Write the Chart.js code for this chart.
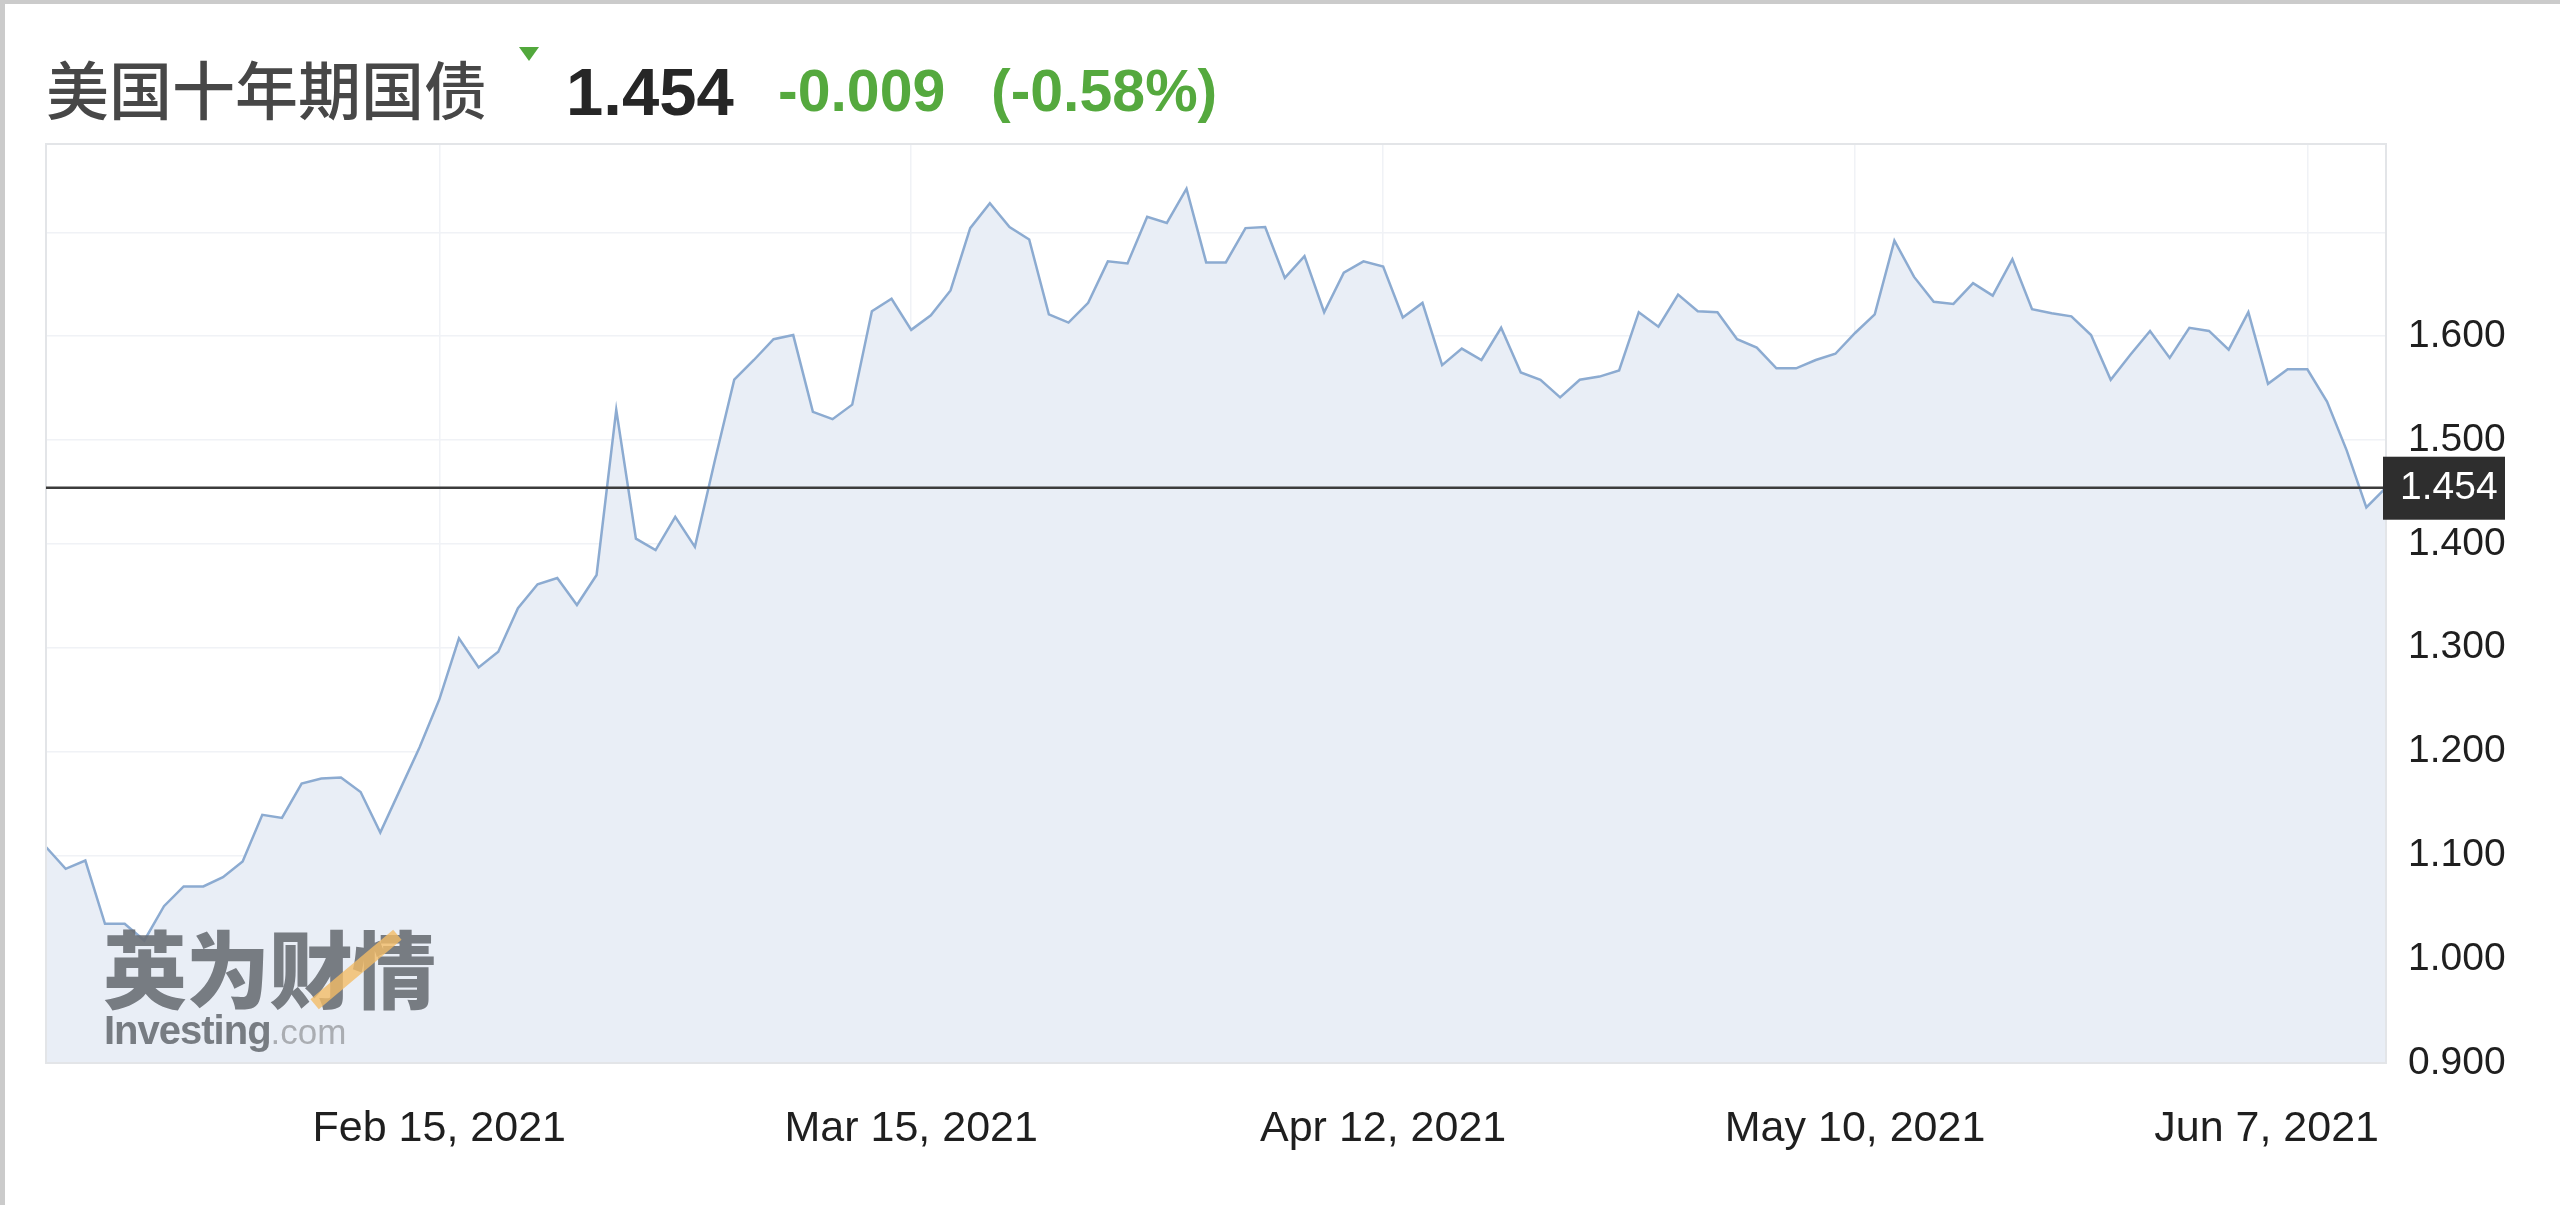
<!DOCTYPE html>
<html>
<head>
<meta charset="utf-8">
<script src="https://cdn.jsdelivr.net/npm/chart.js@4.4.1/dist/chart.umd.min.js"></script>
<style>
html,body{margin:0;padding:0;background:#fff;width:2560px;height:1205px;overflow:hidden;}
#c{position:absolute;left:0;top:0;}
.bt{position:absolute;left:0;top:0;width:2560px;height:4px;background:#cbcbcb;}
.bl{position:absolute;left:0;top:0;width:5px;height:1205px;background:#cbcbcb;}
.h{position:absolute;white-space:nowrap;}
#title{left:46px;top:55px;font:500 63px/63px "Noto Sans CJK SC",sans-serif;color:#474747;}
#tri{left:519px;top:47px;width:0;height:0;border-left:10px solid transparent;border-right:10px solid transparent;border-top:14px solid #52a83c;}
#last{left:566px;top:58px;font:700 67px/67px "Liberation Sans",Arial,sans-serif;color:#262626;}
#chg{left:778px;top:62px;font:700 59px/59px "Liberation Sans",Arial,sans-serif;color:#55a93e;}
#pct{left:991px;top:62px;font:700 59px/59px "Liberation Sans",Arial,sans-serif;color:#55a93e;}
#wm1{left:103px;top:924px;font:900 84px/84px "Noto Sans CJK SC",sans-serif;color:#6b6f76;letter-spacing:-1px;opacity:0.9;}
#wm2{left:104px;top:1010px;font:700 40px/40px "Liberation Sans",Arial,sans-serif;color:#6b6f76;letter-spacing:-1px;opacity:0.9;}
#wm2 span{font-weight:400;font-size:35px;color:#a3a6ab;letter-spacing:0;}
#slash{left:302px;top:963px;width:108px;height:13px;background:#f2bb66;opacity:0.8;transform:rotate(-40deg);}
</style>
</head>
<body>
<canvas id="c" width="2560" height="1205"></canvas>
<div class="bt"></div><div class="bl"></div>
<div class="h" id="title">美国十年期国债</div>
<div class="h" id="tri"></div>
<div class="h" id="last">1.454</div>
<div class="h" id="chg">-0.009</div>
<div class="h" id="pct">(-0.58%)</div>
<div class="h" id="wm1">英为财情</div>
<div class="h" id="slash"></div>
<div class="h" id="wm2">Investing<span>.com</span></div>
<script>
// Category axis: trading sessions (Sun–Fri), Jan 22 – Jun 11, 2021
const days = [
 "Jan 22",
 "Jan 24","Jan 25","Jan 26","Jan 27","Jan 28","Jan 29",
 "Jan 31","Feb 1","Feb 2","Feb 3","Feb 4","Feb 5",
 "Feb 7","Feb 8","Feb 9","Feb 10","Feb 11","Feb 12",
 "Feb 14","Feb 15","Feb 16","Feb 17","Feb 18","Feb 19",
 "Feb 21","Feb 22","Feb 23","Feb 24","Feb 25","Feb 26",
 "Feb 28","Mar 1","Mar 2","Mar 3","Mar 4","Mar 5",
 "Mar 7","Mar 8","Mar 9","Mar 10","Mar 11","Mar 12",
 "Mar 14","Mar 15","Mar 16","Mar 17","Mar 18","Mar 19",
 "Mar 21","Mar 22","Mar 23","Mar 24","Mar 25","Mar 26",
 "Mar 28","Mar 29","Mar 30","Mar 31","Apr 1","Apr 2",
 "Apr 4","Apr 5","Apr 6","Apr 7","Apr 8","Apr 9",
 "Apr 11","Apr 12","Apr 13","Apr 14","Apr 15","Apr 16",
 "Apr 18","Apr 19","Apr 20","Apr 21","Apr 22","Apr 23",
 "Apr 25","Apr 26","Apr 27","Apr 28","Apr 29","Apr 30",
 "May 2","May 3","May 4","May 5","May 6","May 7",
 "May 9","May 10","May 11","May 12","May 13","May 14",
 "May 16","May 17","May 18","May 19","May 20","May 21",
 "May 23","May 24","May 25","May 26","May 27","May 28",
 "May 30","Jun 1","Jun 2","Jun 3","Jun 4",
 "Jun 6","Jun 7","Jun 8","Jun 9","Jun 10","Jun 11"
];
const dates = days.map(d => d + ", 2021");

// 10-year US Treasury yield (%)
const yields = [
 1.108,
 1.087,1.095,1.034,1.034,1.018,1.051,
 1.070,1.070,1.079,1.094,1.139,1.136,
 1.169,1.174,1.175,1.161,1.122,1.163,
 1.204,1.250,1.309,1.281,1.296,1.338,
 1.361,1.367,1.341,1.370,1.529,1.405,
 1.394,1.426,1.397,1.479,1.558,1.577,
 1.597,1.601,1.527,1.520,1.534,1.624,
 1.636,1.606,1.620,1.644,1.704,1.728,
 1.705,1.693,1.621,1.613,1.632,1.672,
 1.670,1.715,1.709,1.742,1.671,1.671,
 1.704,1.705,1.656,1.677,1.623,1.661,
 1.672,1.667,1.618,1.632,1.572,1.588,
 1.577,1.608,1.565,1.558,1.541,1.558,
 1.561,1.567,1.623,1.609,1.640,1.624,
 1.623,1.597,1.589,1.569,1.569,1.577,
 1.583,1.603,1.621,1.692,1.657,1.633,
 1.631,1.651,1.639,1.674,1.626,1.622,
 1.619,1.601,1.558,1.582,1.605,
 1.579,1.608,1.605,1.587,1.623,1.554,
 1.568,1.568,1.537,1.490,1.435,1.454
];

const xTickLabels = ["Feb 15, 2021","Mar 15, 2021","Apr 12, 2021","May 10, 2021","Jun 7, 2021"];
const yTickValues = [0.9,1.0,1.1,1.2,1.3,1.4,1.5,1.6,1.7];
const yLabelMax = 1.6;
const currentValue = yields[yields.length - 1];

// keep x tick labels inside the plot's right edge (like the original widget)
const clampLabels = {
  id: 'clampLabels',
  beforeDraw(chart) {
    const s = chart.scales.x;
    const a = chart.chartArea;
    const items = s.getLabelItems(a);
    const ctx = chart.ctx;
    items.forEach(it => {
      ctx.save();
      ctx.font = it.font.string;
      const w = ctx.measureText(String(it.label)).width;
      ctx.restore();
      const x = it.options.translation[0];
      const limit = a.right - 7;
      if (x + w / 2 > limit) {
        it.options.textAlign = 'right';
        it.options.translation[0] = limit;
      }
    });
  }
};

const overlay = {
  id: 'overlay',
  afterDraw(chart) {
    const {ctx, chartArea: a, scales} = chart;
    ctx.save();
    ctx.strokeStyle = '#e3e5e8';
    ctx.lineWidth = 2;
    ctx.strokeRect(a.left, a.top, a.right - a.left, a.bottom - a.top);
    const y = scales.y.getPixelForValue(currentValue);
    ctx.strokeStyle = '#3c3c3c';
    ctx.lineWidth = 2.5;
    ctx.beginPath();
    ctx.moveTo(a.left, y);
    ctx.lineTo(a.right, y);
    ctx.stroke();
    ctx.fillStyle = '#2e2e2e';
    ctx.fillRect(a.right - 3, y - 31, 122, 63);
    ctx.fillStyle = '#ffffff';
    ctx.font = '39px "Liberation Sans", Arial, sans-serif';
    ctx.textBaseline = 'middle';
    ctx.textAlign = 'left';
    ctx.fillText(currentValue.toFixed(3), a.right + 14, y + 1);
    ctx.restore();
  }
};

Chart.defaults.font.family = '"Liberation Sans", Arial, sans-serif';

new Chart(document.getElementById('c'), {
  type: 'line',
  data: {
    labels: dates,
    datasets: [{
      data: yields,
      borderColor: '#8cabd1',
      borderWidth: 2.5,
      backgroundColor: '#e9eef6',
      fill: 'start',
      pointRadius: 0,
      tension: 0
    }]
  },
  options: {
    responsive: false,
    animation: false,
    layout: { padding: { left: 46, top: 144, right: 0, bottom: 0 } },
    plugins: { legend: { display: false }, tooltip: { enabled: false } },
    scales: {
      x: {
        type: 'category',
        offset: false,
        z: 1,
        afterBuildTicks: s => { s.ticks = xTickLabels.map(l => ({ value: dates.indexOf(l) })); },
        afterFit: s => { s.height = 142; },
        ticks: { autoSkip: false, maxRotation: 0, minRotation: 0, padding: 40, color: '#1f1f1f', font: { size: 43 } },
        grid: { color: '#f0f2f6', lineWidth: 1.5, drawTicks: false },
        border: { display: false }
      },
      y: {
        position: 'right',
        min: 0.9,
        max: 1.785,
        z: 1,
        afterBuildTicks: s => { s.ticks = yTickValues.map(v => ({ value: v })); },
        afterFit: s => { s.width = 174; },
        ticks: {
          padding: 22, color: '#1f1f1f', font: { size: 39 },
          callback: v => (v <= yLabelMax + 1e-9 ? Number(v).toFixed(3) : '')
        },
        grid: { color: '#f0f2f6', lineWidth: 1.5, drawTicks: false },
        border: { display: false }
      }
    }
  },
  plugins: [clampLabels, overlay]
});
</script>
</body>
</html>
